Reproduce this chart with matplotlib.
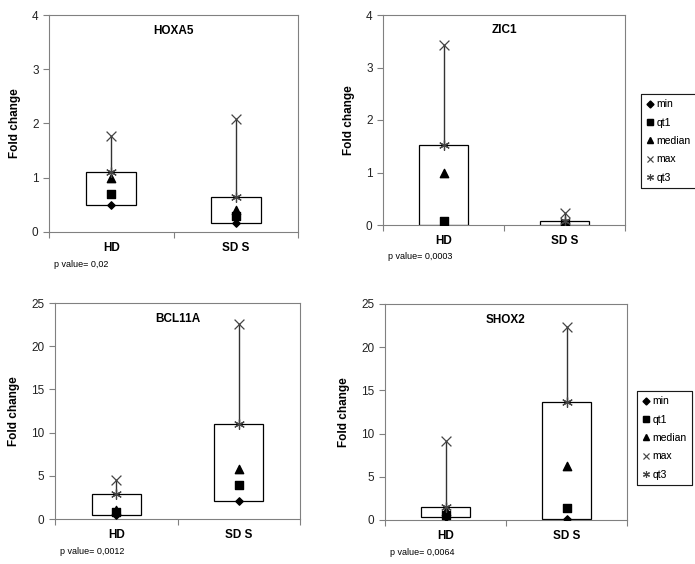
import matplotlib
matplotlib.use('Agg')
import matplotlib.pyplot as plt
from matplotlib.lines import Line2D

plt.rcParams['font.family'] = ['Liberation Sans', 'DejaVu Sans']

# ---- data ----
genes = ['HOXA5', 'ZIC1', 'BCL11A', 'SHOX2']
groups = ['HD', 'SD S']
p_values = ['p value= 0,02', 'p value= 0,0003', 'p value= 0,0012', 'p value= 0,0064']
y_max = [4, 4, 25, 25]
y_step = [1, 1, 5, 5]

# one row per gene, columns = HD, SDS
min_vals = [[0.5, 0.17], [0.0, 0.0], [0.45, 2.1], [0.35, 0.1]]
qt1_vals = [[0.7, 0.3], [0.08, 0.02], [0.8, 3.9], [0.6, 1.4]]
median_vals = [[1.0, 0.4], [1.0, 0.04], [1.0, 5.8], [1.0, 6.2]]
max_vals = [[1.77, 2.08], [3.42, 0.22], [4.5, 22.6], [9.1, 22.3]]
qt3_vals = [[1.1, 0.65], [1.52, 0.08], [2.9, 11.0], [1.5, 13.7]]

# axes placement in pixels: left, top, right, bottom
axes_px = [(49, 15, 298, 232), (383, 15, 625, 225),
           (55, 303, 300, 519), (385, 304, 627, 520)]
W, H = 695, 564

fig = plt.figure(figsize=(W / 100, H / 100), dpi=100, facecolor='w')

star = (6, 2, 0)
for g in range(4):
  l, t, r, b = axes_px[g]
  ax = fig.add_axes([l / W, 1 - b / H, (r - l) / W, (b - t) / H])
  x = [0, 1]
  mins = min_vals[g]
  q3 = qt3_vals[g]
  # box: min -> qt3
  ax.bar(x, [q3[i] - mins[i] for i in x], bottom=mins, width=0.4,
         facecolor='white', edgecolor='black', linewidth=0.9, zorder=2)
  # whisker: qt3 -> max
  for i in x:
    ax.plot([i, i], [q3[i], max_vals[g][i]], color='#333333', lw=1.0, zorder=3)
  ax.scatter(x, mins, marker='D', s=14, color='black', zorder=4)
  ax.scatter(x, qt1_vals[g], marker='s', s=36, color='black', zorder=4)
  ax.scatter(x, median_vals[g], marker='^', s=36, color='black', zorder=4)
  ax.scatter(x, max_vals[g], marker='x', s=50, color='#444444', linewidths=0.9, zorder=5)
  ax.scatter(x, q3, marker=star, s=50, color='#444444', linewidths=0.9, zorder=5)

  ax.set_xlim(-0.5, 1.5)
  ax.set_ylim(0, y_max[g])
  ax.set_yticks(range(0, y_max[g] + 1, y_step[g]))
  ax.set_xticks([-0.5, 0.5, 1.5])
  ax.set_xticklabels([])
  ax.set_xticks(x, minor=True)
  ax.set_xticklabels(groups, minor=True, fontweight='bold', fontsize=8.5)
  ax.tick_params(axis='x', which='minor', length=0, pad=7)
  ax.tick_params(axis='x', which='major', length=4, color='#808080')
  ax.tick_params(axis='y', labelsize=8.5, length=4, color='#808080', labelcolor='#222222')
  for s in ax.spines.values():
    s.set_color('#808080')
  ax.set_ylabel('Fold change', fontweight='bold', fontsize=8.5, labelpad=8)
  ax.text(0.5, 0.955, genes[g], transform=ax.transAxes, ha='center', va='top',
          fontweight='bold', fontsize=8.5)
  ax.text(0.02, -0.13, p_values[g], transform=ax.transAxes, ha='left', va='top',
          fontsize=6.5)

# legends on the right
handles = [
    Line2D([], [], ls='none', marker='D', ms=3.5, color='black'),
    Line2D([], [], ls='none', marker='s', ms=5, color='black'),
    Line2D([], [], ls='none', marker='^', ms=5, color='black'),
    Line2D([], [], ls='none', marker='x', ms=5, color='#444444', mew=0.8),
    Line2D([], [], ls='none', marker=star, ms=5, color='#444444', mew=0.8),
]
labels = ['min', 'qt1', 'median', 'max', 'qt3']
for top_px, left_px in [(94, 641), (391, 637)]:
  leg = fig.legend(handles, labels, loc='upper left',
                   bbox_to_anchor=(left_px / W, 1 - top_px / H),
                   fontsize=7.5, frameon=True, fancybox=False, edgecolor='black',
                   handlelength=0.7, handletextpad=0.3, labelspacing=0.8,
                   borderpad=0.5, borderaxespad=0)
  leg.get_frame().set_linewidth(0.8)
  fig.add_artist(leg)

fig.savefig('out.png', dpi=100)
